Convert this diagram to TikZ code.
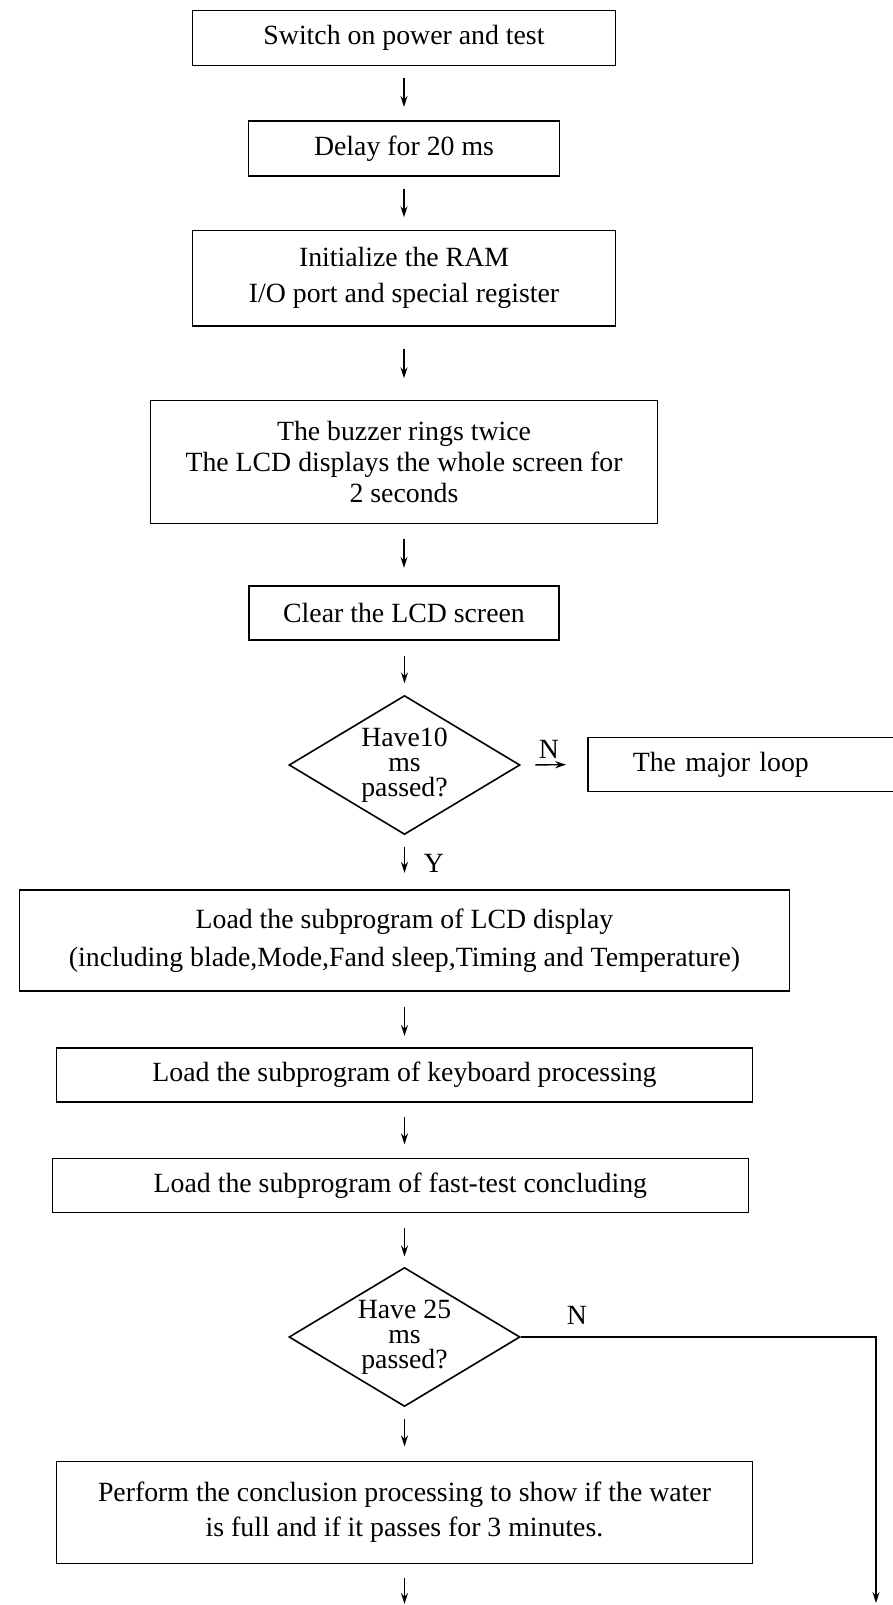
\documentclass[tikz,border=0pt]{standalone}
\usepackage{fontspec}
\setmainfont{Liberation Serif}
\usetikzlibrary{arrows.meta,shapes.geometric}
\tikzset{
  box/.style={draw, line width=0.8pt, inner sep=0pt, align=center},
  decision/.style={draw, diamond, aspect=1.66, line width=0.8pt, inner sep=0pt, align=center,
    minimum width=115.5pt, minimum height=69.5pt, font=\fontsize{13.9}{12.5}\selectfont},
  flow/.style={line width=0.7pt, -{Stealth[length=5.5pt,width=3.5pt]}},
  lab/.style={inner sep=0pt},
}
\begin{document}
\begin{tikzpicture}[x=0.5pt,y=-0.5pt,font=\fontsize{13.9}{18}\selectfont]
  \useasboundingbox (0,0) rectangle (893,1605);
  \node[box, minimum width=211.5pt, minimum height=27.5pt] (power) at (404,38) {Switch on power and test};
  \node[box, minimum width=155.5pt, minimum height=27.5pt] (delay) at (404,148.3) {Delay for 20 ms};
  \node[box, minimum width=211.5pt, minimum height=47.5pt] (init) at (404,278.2) {Initialize the RAM\\I/O port and special register};
  \node[box, minimum width=253.5pt, minimum height=61.5pt, font=\fontsize{13.9}{15.6}\selectfont] (buzzer) at (404,462) {The buzzer rings twice\\The LCD displays the whole screen for\\2 seconds};
  \node[box, minimum width=155pt, minimum height=27pt] (clear) at (404,613) {Clear the LCD screen};
  \node[decision] (wait10) at (404.5,765) {Have10\\ms\\passed?};
  \node[box, anchor=west, align=left, text width=114pt, inner xsep=22.5pt, minimum height=27pt] (loop) at (587,764.5) {The major loop};
  \node[box, minimum width=385pt, minimum height=50.5pt, font=\fontsize{13.9}{19}\selectfont] (lcd) at (404.5,940.6) {Load the subprogram of LCD display\\(including blade,Mode,Fand sleep,Timing and Temperature)};
  \node[box, minimum width=348pt, minimum height=27pt] (keys) at (404.5,1075) {Load the subprogram of keyboard processing};
  \node[box, minimum width=348pt, minimum height=27pt] (fast) at (400.4,1185.4) {Load the subprogram of fast-test concluding};
  \node[decision] (wait25) at (404.5,1337) {Have 25\\ms\\passed?};
  \node[box, minimum width=348pt, minimum height=51pt, font=\fontsize{13.9}{17.5}\selectfont] (concl) at (404.5,1512.6) {Perform the conclusion processing to show if the water\\is full and if it passes for 3 minutes.};
  \node[lab] (n1) at (549,749) {N};
  \node[lab] (y1) at (434,863) {Y};
  \node[lab] (n2) at (577,1315) {N};
  \coordinate (downend) at (404.5,1605);
  \coordinate (sideend) at (876,1603);
  % arrows between the boxes
  \draw[flow, shorten <=5.75pt, shorten >=6.5pt] (power) -- (delay);
  \draw[flow, shorten <=6.2pt, shorten >=6.3pt] (delay) -- (init);
  \draw[flow, shorten <=11pt, shorten >=10.7pt] (init) -- (buzzer);
  \draw[flow, shorten <=7.2pt, shorten >=8.7pt] (buzzer) -- (clear);
  \draw[flow, shorten <=7.5pt, shorten >=5.7pt] (clear.south -| wait10) -- (wait10.north);
  \draw[flow, shorten <=7.3pt, shorten >=10.4pt] (wait10.east) -- (loop.west);
  \draw[flow, shorten <=5.7pt, shorten >=8.2pt] (wait10.south) -- (lcd.north);
  \draw[flow, shorten <=7.7pt, shorten >=5.6pt] (lcd.south) -- (keys.north);
  \draw[flow, shorten <=7pt, shorten >=6.6pt] (keys.south) -- (keys.south |- fast.north);
  \draw[flow, shorten <=7.2pt, shorten >=5.1pt] (wait25.north |- fast.south) -- (wait25.north);
  \draw[flow, shorten <=6pt, shorten >=7.2pt] (wait25.south) -- (concl.north);
  \draw[flow, shorten <=6.6pt, shorten >=0.5pt] (concl.south) -- (downend);
  \draw[flow] (wait25.east) -| (sideend);
\end{tikzpicture}
\end{document}
